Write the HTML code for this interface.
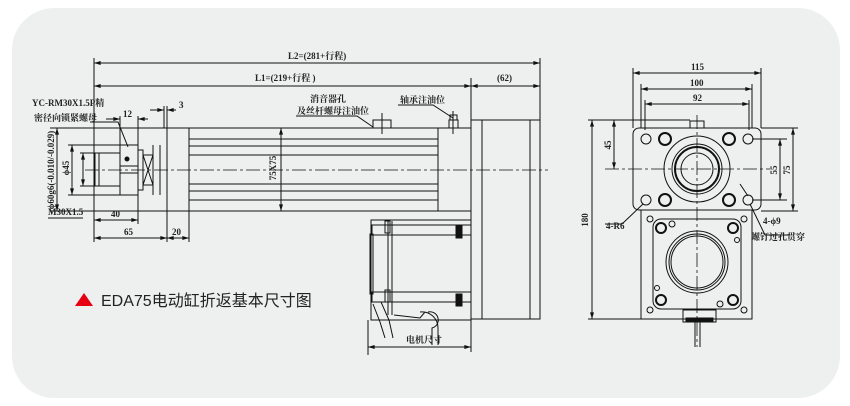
<!DOCTYPE html>
<html><head><meta charset="utf-8"><style>
html,body{margin:0;padding:0;background:#fff;}
svg{display:block}
text{font-family:"Liberation Serif","Noto Serif CJK SC",serif;font-weight:bold;fill:#222}
.t{font-size:9px}
</style></head><body>
<svg width="850" height="406" viewBox="0 0 850 406" xmlns="http://www.w3.org/2000/svg">
<defs>
<marker id="a" viewBox="0 0 10 6" refX="10" refY="3" markerWidth="8" markerHeight="4" orient="auto-start-reverse"><path d="M0,0L10,3L0,6z" fill="#111"/></marker>
</defs>
<rect x="12" y="8" width="828" height="390" rx="42" fill="#eef0ef"/>
<g stroke="#111" stroke-width="1" fill="none">
<line x1="94" y1="58" x2="94" y2="242"/>
<line x1="540" y1="58" x2="540" y2="120"/>
<line x1="471" y1="78" x2="471" y2="120"/>
<line x1="94" y1="63" x2="540" y2="63" marker-start="url(#a)" marker-end="url(#a)"/>
<line x1="94" y1="86" x2="471" y2="86" marker-start="url(#a)" marker-end="url(#a)"/>
<line x1="471" y1="86" x2="540" y2="86" marker-start="url(#a)" marker-end="url(#a)"/>
<rect x="167" y="128" width="22" height="83"/>
<rect x="189" y="128" width="249" height="83"/>
<line x1="189" y1="139" x2="438" y2="139"/><line x1="189" y1="146" x2="438" y2="146"/><line x1="189" y1="155" x2="438" y2="155"/>
<line x1="189" y1="184" x2="438" y2="184"/><line x1="189" y1="191" x2="438" y2="191"/><line x1="189" y1="200" x2="438" y2="200"/>
<rect x="438" y="128" width="33" height="83"/>
<rect x="471" y="120" width="11" height="199"/>
<rect x="482" y="120" width="48" height="199"/>
<rect x="530" y="120" width="10" height="199"/>
<rect x="95" y="153" width="25" height="33"/>
<line x1="99" y1="153" x2="99" y2="186"/>
<rect x="120" y="145" width="18" height="50"/>
<line x1="120" y1="166" x2="138" y2="166"/><line x1="120" y1="173" x2="138" y2="173"/>
<circle cx="127" cy="159" r="2" fill="#111"/>
<rect x="138" y="150" width="5" height="40"/>
<rect x="143" y="155" width="10" height="30"/>
<path d="M143 155L153 185M153 155L143 185"/>
<line x1="153" y1="145" x2="153" y2="195"/><line x1="160" y1="145" x2="160" y2="195"/>
<line x1="85" y1="170" x2="548" y2="170" stroke-dasharray="14,3,3,3" stroke-width="0.8"/>
<rect x="373" y="120" width="18" height="8"/><line x1="382" y1="113" x2="382" y2="134"/>
<rect x="449" y="120" width="9" height="8"/><rect x="450" y="115" width="7" height="5"/><line x1="453" y1="111" x2="453" y2="134"/>
<path d="M296 116H357L373 127"/>
<path d="M398 105H433L453 118"/>
<line x1="281" y1="128" x2="281" y2="211" marker-start="url(#a)" marker-end="url(#a)"/>
<line x1="57" y1="128" x2="57" y2="211" marker-start="url(#a)" marker-end="url(#a)"/>
<line x1="50" y1="128" x2="167" y2="128"/><line x1="50" y1="211" x2="167" y2="211"/>
<line x1="72" y1="145" x2="72" y2="195" marker-start="url(#a)" marker-end="url(#a)"/>
<line x1="68" y1="145" x2="120" y2="145"/><line x1="68" y1="195" x2="120" y2="195"/>
<line x1="83" y1="153" x2="83" y2="186" marker-start="url(#a)" marker-end="url(#a)"/>
<line x1="80" y1="153" x2="95" y2="153"/><line x1="80" y1="186" x2="95" y2="186"/>
<line x1="48" y1="218" x2="83" y2="218"/>
<line x1="94" y1="220" x2="138" y2="220" marker-start="url(#a)" marker-end="url(#a)"/>
<line x1="138" y1="195" x2="138" y2="224"/>
<line x1="94" y1="238" x2="167" y2="238" marker-start="url(#a)" marker-end="url(#a)"/>
<line x1="167" y1="238" x2="189" y2="238" marker-start="url(#a)" marker-end="url(#a)"/>
<line x1="167" y1="211" x2="167" y2="242"/><line x1="189" y1="211" x2="189" y2="242"/>
<line x1="106" y1="119" x2="120" y2="119" marker-end="url(#a)"/><line x1="138" y1="119" x2="148" y2="119" marker-start="url(#a)"/>
<line x1="120" y1="116" x2="120" y2="145"/><line x1="138" y1="116" x2="138" y2="145"/>
<line x1="150" y1="110" x2="164" y2="110" marker-end="url(#a)"/><line x1="167" y1="110" x2="176" y2="110" marker-start="url(#a)"/>
<line x1="164" y1="106" x2="164" y2="128"/><line x1="167" y1="106" x2="167" y2="128"/>
<path d="M90 122L118 122L128 147"/>
<rect x="371" y="220" width="100" height="100"/>
<rect x="372" y="225" width="99" height="10"/><rect x="372" y="292" width="99" height="10"/>
<rect x="456" y="226" width="6" height="12" fill="#111"/><rect x="456" y="294" width="6" height="12" fill="#111"/>
<rect x="385" y="221" width="5" height="12"/><rect x="385" y="290" width="5" height="12"/>
<line x1="388" y1="221" x2="388" y2="315"/><line x1="392" y1="221" x2="392" y2="315"/>
<rect x="370" y="234" width="3" height="60"/>
<path d="M373 304L380 322L385 338M381 302L389 320L393 338"/>
<path d="M394 315L420 318L425 312M420 312A16 16 0 0 1 438 328L438 345M428 312A8 8 0 0 1 432 328L432 345"/>
<line x1="368" y1="320" x2="368" y2="355"/>
<line x1="368" y1="347" x2="471" y2="347" marker-start="url(#a)" marker-end="url(#a)"/>
<line x1="471" y1="319" x2="471" y2="352"/>
<rect x="633" y="128" width="128" height="82" rx="6"/>
<rect x="641" y="210" width="111" height="109"/>
<rect x="653" y="219" width="88" height="90" rx="8"/>
<circle cx="697" cy="262" r="31"/><circle cx="697" cy="262" r="26"/><circle cx="697" cy="262" r="28"/>
<circle cx="697" cy="169" r="33"/><circle cx="697" cy="169" r="25"/><circle cx="697" cy="169" r="22" stroke-width="2"/><circle cx="697" cy="169" r="16"/>
<g><circle cx="646" cy="139" r="5"/><circle cx="748" cy="139" r="5"/><circle cx="646" cy="200" r="5"/><circle cx="748" cy="200" r="5"/></g>
<g stroke-width="2"><circle cx="665" cy="139" r="6"/><circle cx="729" cy="139" r="6"/><circle cx="665" cy="200" r="6"/><circle cx="729" cy="200" r="6"/>
<circle cx="661" cy="228" r="5"/><circle cx="733" cy="228" r="5"/><circle cx="661" cy="300" r="5"/><circle cx="733" cy="300" r="5"/></g>
<g><circle cx="650" cy="219" r="3"/><circle cx="744" cy="219" r="3"/><circle cx="650" cy="310" r="3"/><circle cx="744" cy="310" r="3"/>
<circle cx="672" cy="224" r="3"/><circle cx="737" cy="240" r="2.5"/><circle cx="657" cy="288" r="2.5"/><circle cx="720" cy="304" r="3"/></g>
<rect x="683" y="310" width="33" height="12"/><rect x="686" y="318" width="27" height="4" fill="#111"/>
<line x1="695" y1="322" x2="695" y2="347"/><line x1="700" y1="322" x2="700" y2="347"/>
<rect x="690" y="121" width="14" height="7"/>
<line x1="697" y1="115" x2="697" y2="347" stroke-dasharray="14,3,3,3" stroke-width="0.8"/>
<line x1="605" y1="169" x2="770" y2="169" stroke-dasharray="14,3,3,3" stroke-width="0.8"/>
<line x1="633" y1="68" x2="633" y2="128"/><line x1="761" y1="68" x2="761" y2="128"/>
<line x1="641" y1="84" x2="641" y2="128"/><line x1="752" y1="84" x2="752" y2="128"/>
<line x1="645" y1="100" x2="645" y2="130"/><line x1="749" y1="100" x2="749" y2="130"/>
<line x1="633" y1="73" x2="761" y2="73" marker-start="url(#a)" marker-end="url(#a)"/>
<line x1="641" y1="89" x2="752" y2="89" marker-start="url(#a)" marker-end="url(#a)"/>
<line x1="645" y1="104" x2="749" y2="104" marker-start="url(#a)" marker-end="url(#a)"/>
<line x1="588" y1="120" x2="690" y2="120"/><line x1="588" y1="319" x2="641" y2="319"/>
<line x1="592" y1="120" x2="592" y2="319" marker-start="url(#a)" marker-end="url(#a)"/>
<line x1="614" y1="120" x2="614" y2="169" marker-start="url(#a)" marker-end="url(#a)"/>
<line x1="761" y1="128" x2="798" y2="128"/><line x1="761" y1="211" x2="798" y2="211"/>
<line x1="752" y1="139" x2="787" y2="139"/><line x1="752" y1="200" x2="787" y2="200"/>
<line x1="780" y1="139" x2="780" y2="200" marker-start="url(#a)" marker-end="url(#a)"/>
<line x1="793" y1="128" x2="793" y2="211" marker-start="url(#a)" marker-end="url(#a)"/>
<path d="M605 224H622L643 204"/>
<path d="M740 184L748 196M750 204L765 235H790"/>
</g>
<g class="t">
<text x="288" y="59" class="t">L2=(281+行程)</text>
<text x="255" y="81" class="t">L1=(219+行程 )</text>
<text x="497" y="81" class="t">(62)</text>
<text x="123" y="117" class="t">12</text>
<text x="179" y="108" class="t">3</text>
<text x="32" y="106" class="t" font-size="8">YC-RM30X1.5P精</text>
<text x="34" y="121" class="t" font-size="8">密径向锁紧螺母</text>
<text x="48" y="215" class="t" font-size="8">M30X1.5</text>
<text x="111" y="217" class="t">40</text>
<text x="124" y="235" class="t">65</text>
<text x="172" y="235" class="t">20</text>
<text x="310" y="102" class="t" font-size="8">消音器孔</text>
<text x="297" y="114" class="t" font-size="8">及丝杆螺母注油位</text>
<text x="400" y="103" class="t" font-size="8">轴承注油位</text>
<text x="406" y="343" class="t" font-size="8">电机尺寸</text>
<text x="691" y="70" class="t">115</text>
<text x="690" y="86" class="t">100</text>
<text x="693" y="101" class="t">92</text>
<text x="606" y="229" class="t" font-size="8">4-R6</text>
<text x="763" y="224" class="t" font-size="8">4-ϕ9</text>
<text x="751" y="240" class="t" font-size="8">螺钉过孔贯穿</text>
<text transform="translate(276,168) rotate(-90)" text-anchor="middle" class="t" font-size="8">75X75</text>
<text transform="translate(69,168) rotate(-90)" text-anchor="middle" class="t" font-size="8">ϕ45</text>
<text transform="translate(54,170) rotate(-90)" text-anchor="middle" class="t" font-size="6.5">ϕ60g6(-0.010/-0.029)</text>
<text transform="translate(588,220) rotate(-90)" text-anchor="middle" class="t">180</text>
<text transform="translate(611,145) rotate(-90)" text-anchor="middle" class="t">45</text>
<text transform="translate(777,170) rotate(-90)" text-anchor="middle" class="t">55</text>
<text transform="translate(790,170) rotate(-90)" text-anchor="middle" class="t">75</text>
</g>
<path d="M75 306L84 293L93 306Z" fill="#e60012"/>
<text x="101" y="306" style="font-family:'Liberation Sans','Noto Sans CJK SC',sans-serif;font-weight:normal;font-size:16px;fill:#222">EDA75电动缸折返基本尺寸图</text>
</svg>
</body></html>
